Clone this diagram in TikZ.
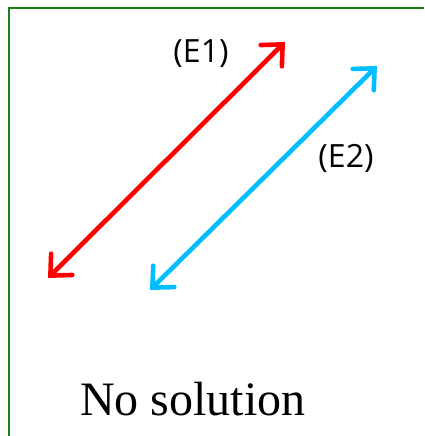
\documentclass[tikz,border=0pt]{standalone}
\usepackage{fontspec}
\setmainfont{Liberation Serif}
\newfontfamily\handfont{Open Sans}
\usetikzlibrary{arrows.meta}

\definecolor{framegreen}{RGB}{20,130,20}
\definecolor{lineblue}{RGB}{0,190,255}

\tikzset{
  frameline/.style={framegreen, line width=1.6pt},
  eqline/.style={line width=4.6pt, line cap=round,
    {Straight Barb[length=16pt,width=30pt,line cap=round]}-{Straight Barb[length=16pt,width=30pt,line cap=round]}},
  eqlabel/.style={font=\handfont\fontsize{32}{36}\selectfont},
}

\begin{document}
\begin{tikzpicture}[x=1pt,y=-1pt]
      \useasboundingbox (0,0) rectangle (424,436);
      % axes frame
      \coordinate (top) at (424,8);
      \coordinate (corner) at (9,8);
      \coordinate (bottom) at (9,436);
      \draw[frameline] (top) -- (corner) -- (bottom);
      % the two lines
      \coordinate (eA) at (48,278);
      \coordinate (eB) at (285,42);
      \coordinate (fA) at (150,290);
      \coordinate (fB) at (377,66);
      \draw[eqline, red] (eA) -- (eB);
      \draw[eqline, lineblue] (fA) -- (fB);
      \node[eqlabel] (labE1) at (201,54) {(E1)};
      \node[eqlabel] (labE2) at (346,158) {(E2)};
      \node[font=\fontsize{48}{50}\selectfont, anchor=base] (result) at (193,415) {No solution};
    \end{tikzpicture}
\end{document}
